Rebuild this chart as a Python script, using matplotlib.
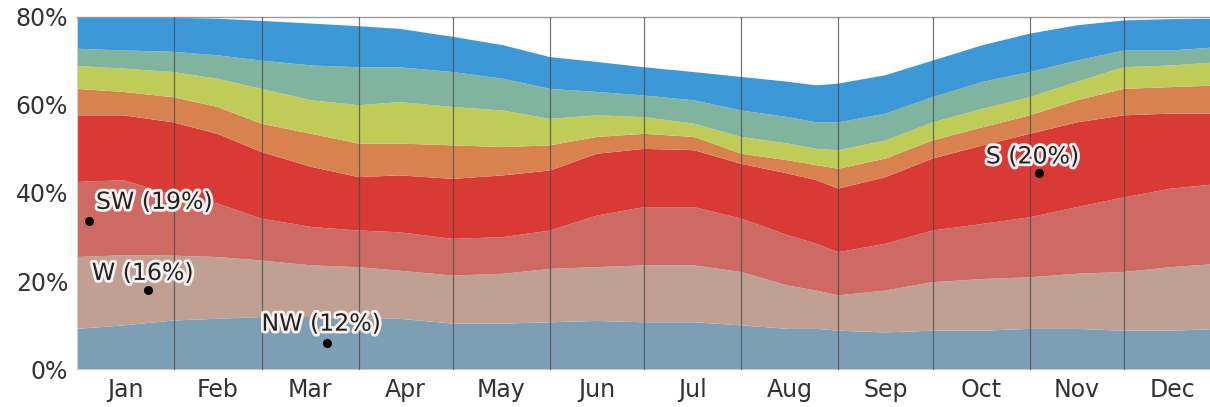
import matplotlib
matplotlib.use("Agg")
import matplotlib.pyplot as plt
import matplotlib.patheffects as pe
import numpy as np

# Day of year for each sample
days = [0, 15, 31, 45, 59, 75, 90, 103, 120, 136, 151, 166, 181, 197, 212,
        227, 236, 243, 258, 273, 289, 304, 319, 334, 349, 365]

# Fraction of time (%) wind blows from each direction
NW = [9.2, 10.0, 11.1, 11.5, 11.9, 11.9, 11.5, 11.5, 10.4, 10.4, 10.7, 11.0, 10.7,
      10.7, 10.0, 9.2, 9.2, 8.8, 8.4, 8.8, 8.8, 9.2, 9.2, 8.8, 8.8, 9.2]
W = [16.3, 15.9, 14.7, 14.0, 12.8, 11.7, 11.7, 10.9, 10.9, 11.3, 12.1, 12.2, 12.9,
     12.9, 12.1, 9.8, 8.7, 8.0, 9.5, 11.0, 11.7, 11.7, 12.5, 13.3, 14.4, 14.8]
SW = [17.0, 17.0, 13.7, 12.1, 9.5, 8.7, 8.3, 8.7, 8.3, 8.3, 8.7, 11.7, 13.2,
      13.2, 12.1, 11.4, 10.6, 9.8, 10.6, 11.7, 12.5, 13.6, 15.1, 16.9, 17.8, 18.1]
S = [15.1, 14.7, 16.5, 15.8, 15.1, 13.6, 12.1, 12.9, 13.6, 14.0, 13.6, 14.0, 13.2,
     12.9, 12.4, 14.0, 14.4, 14.4, 15.1, 16.3, 17.8, 18.9, 19.2, 18.6, 17.0, 15.9]
SE = [6.0, 5.3, 5.7, 6.1, 6.4, 7.5, 7.6, 7.2, 7.6, 6.4, 5.7, 3.8, 3.4,
      3.0, 2.3, 3.0, 3.4, 4.5, 4.2, 4.1, 4.1, 4.2, 5.0, 6.0, 6.0, 6.4]
E = [5.2, 5.3, 5.7, 6.4, 7.9, 7.6, 8.7, 9.4, 8.7, 8.3, 6.0, 4.9, 3.8,
     3.0, 3.8, 3.8, 3.7, 4.2, 4.1, 4.1, 4.2, 4.1, 4.2, 4.9, 4.9, 5.3]
NE = [3.9, 4.1, 4.6, 5.3, 6.4, 7.9, 8.6, 7.9, 7.9, 7.2, 6.8, 5.3, 4.9,
      5.3, 6.0, 6.0, 6.0, 6.3, 6.1, 5.7, 6.1, 5.7, 4.8, 3.8, 3.4, 3.4]
N = [7.3, 7.7, 7.7, 8.3, 9.0, 9.5, 9.3, 8.7, 8.0, 7.6, 7.2, 6.8, 6.4,
     6.4, 7.6, 8.0, 8.4, 8.8, 8.7, 8.3, 8.3, 8.7, 8.0, 6.8, 7.1, 6.4]

series = [NW, W, SW, S, SE, E, NE, N]
colors = ["#7c9fb6", "#c0a092", "#cd6a64", "#d93a36", "#d8834f",
          "#bfcc58", "#80b49f", "#3c98d6"]

month_starts = [0, 31, 59, 90, 120, 151, 181, 212, 243, 273, 304, 334, 365]
month_labels = ["Jan", "Feb", "Mar", "Apr", "May", "Jun", "Jul", "Aug",
                "Sep", "Oct", "Nov", "Dec"]

# annotations: label, dot (day, %), text (day, %)
ann_labels = ["SW (19%)", "W (16%)", "NW (12%)", "S (20%)"]
ann_dot_x = [4.1, 22.9, 79.8, 306.9]
ann_dot_y = [33.7, 18.0, 6.1, 44.5]
ann_txt_x = [6.2, 4.9, 59.0, 290.0]
ann_txt_y = [36.4, 20.3, 8.8, 46.7]

W_PX, H_PX = 1210, 407
fig = plt.figure(figsize=(W_PX / 100, H_PX / 100), dpi=100)
left = 76.5 / W_PX
bottom = (H_PX - 369.5) / H_PX
height = (369.5 - 16.5) / H_PX
width = (1221 - 76.5) / W_PX
ax = fig.add_axes([left, bottom, width, height])

ax.stackplot(days, *series, colors=colors, linewidth=0)

for d in month_starts[1:-1]:
    ax.axvline(d, color="#4a4a4a", lw=0.9, alpha=0.75, zorder=3)

ax.set_xlim(0, 365)
ax.set_ylim(0, 80)

ax.set_yticks([0, 20, 40, 60, 80])
ax.set_yticklabels(["0%", "20%", "40%", "60%", "80%"])
mids = [(month_starts[i] + month_starts[i + 1]) / 2 for i in range(12)]
ax.set_xticks(mids)
ax.set_xticklabels(month_labels)
ax.tick_params(axis="both", length=0, labelsize=17, colors="#333333")
ax.tick_params(axis="y", pad=6)
ax.tick_params(axis="x", pad=6)
for lab in ax.get_xticklabels() + ax.get_yticklabels():
    lab.set_family("DejaVu Sans")

for side in ["bottom", "right"]:
    ax.spines[side].set_visible(False)
ax.spines["top"].set_color("#9a9a9a")
ax.spines["top"].set_linewidth(1.0)
ax.spines["left"].set_color("#cfcfcf")
ax.spines["left"].set_linewidth(0.8)

halo = [pe.withStroke(linewidth=4, foreground="#f6f0ee")]
for lab, dx, dy, tx, ty in zip(ann_labels, ann_dot_x, ann_dot_y, ann_txt_x, ann_txt_y):
    ax.plot(dx, dy, "o", color="black", markersize=5.5, zorder=5)
    ax.text(tx, ty, lab, fontsize=17, family="DejaVu Sans", color="#222222",
            ha="left", va="baseline", zorder=6, path_effects=halo)

fig.savefig("out.png", dpi=100)
